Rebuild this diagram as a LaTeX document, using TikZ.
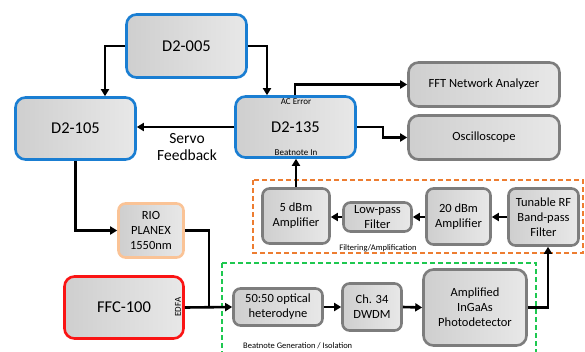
\documentclass[tikz,border=0pt]{standalone}
\usepackage{fontspec}
\setmainfont{Carlito}
\usetikzlibrary{arrows.meta}
\definecolor{bluebd}{RGB}{26,126,210}
\definecolor{graybd}{RGB}{125,125,125}
\definecolor{redbd}{RGB}{250,20,20}
\definecolor{peachbd}{RGB}{250,195,150}
\definecolor{orangedash}{RGB}{237,125,49}
\definecolor{greendash}{RGB}{30,200,80}
\tikzset{
  box/.style={rounded corners=10pt, line width=2.6pt, left color=gray!38, middle color=white, right color=gray!18, align=center, inner sep=0pt, text=black},
  bluebox/.style={box, draw=bluebd, font=\fontsize{16.5}{18}\selectfont},
  graybox/.style={box, draw=graybd, font=\fontsize{12.5}{15}\selectfont},
  smallbox/.style={graybox, rounded corners=7pt},
  arr/.style={line width=2.6pt, -{Triangle[length=7pt,width=8pt]}},
  ln/.style={line width=2.6pt},
  tiny/.style={font=\fontsize{9}{10}\selectfont, inner sep=0pt}
}
\begin{document}
\begin{tikzpicture}[x=1pt,y=-1pt]
\useasboundingbox (0,0) rectangle (585,351);

% group frames
\draw[orangedash, line width=1.2pt, dash pattern=on 5pt off 3pt] (253,180) rectangle (583,253);
\draw[greendash, line width=1.2pt, dash pattern=on 5pt off 3pt] (222,263) -- (536,263) -- (536,360) (222,263) -- (222,360);

% controllers
\node[bluebox, minimum width=120pt, minimum height=63pt] (d005) at (186.5,46) {D2-005};
\node[bluebox, minimum width=120pt, minimum height=62pt] (d105) at (75.5,128.5) {D2-105};
\node[bluebox, minimum width=120pt, minimum height=61pt] (d135) at (295.5,127) {D2-135};
\node[tiny] at (296,102) {AC Error};
\node[tiny] at (296,153) {Beatnote In};

% instruments
\node[graybox, minimum width=151pt, minimum height=44pt] (fft) at (484,84.5) {FFT Network Analyzer};
\node[graybox, minimum width=151pt, minimum height=44pt] (osc) at (484,137.5) {Oscilloscope};

% filtering / amplification chain
\node[smallbox, minimum width=67pt, minimum height=55pt] (amp5) at (296,216) {5 dBm\\Amplifier};
\node[smallbox, minimum width=68pt, minimum height=29pt] (lpf) at (377.5,217) {Low-pass\\Filter};
\node[smallbox, minimum width=64pt, minimum height=56pt] (amp20) at (458.5,216.5) {20 dBm\\Amplifier};
\node[smallbox, minimum width=70pt, minimum height=57pt] (tun) at (543.5,217) {Tunable RF\\Band-pass\\Filter};
\node[tiny, font=\fontsize{8.5}{10}\selectfont] at (378,248) {Filtering/Amplification};

% lasers
\node[smallbox, draw=peachbd, minimum width=65pt, minimum height=54pt] (rio) at (151,230.5) {RIO\\PLANEX\\1550nm};
\node[bluebox, draw=redbd, minimum width=119pt, minimum height=62pt] (ffc) at (124,307.5) {FFC-100};
\node[tiny, rotate=90] at (178,307) {EDFA};

% beatnote generation chain
\node[smallbox, minimum width=89pt, minimum height=37pt] (het) at (278,307) {50:50 optical\\heterodyne};
\node[smallbox, minimum width=59pt, minimum height=47pt] (dwdm) at (372,307) {Ch. 34\\DWDM};
\node[graybox, minimum width=103pt, minimum height=76pt] (pd) at (475,307.5) {Amplified\\InGaAs\\Photodetector};
\node[tiny, font=\fontsize{8.5}{10}\selectfont, anchor=west] at (243,345.5) {Beatnote Generation / Isolation};

% connectors
\draw[arr] (d005.west) -| ([xshift=29.5pt]d105.north);
\draw[arr] (d005.east) -| ([xshift=-28.5pt]d135.north);
\draw[arr] (d135.west) -- (d135.west -| d105.east);
\node[font=\fontsize{15.5}{17.5}\selectfont, align=center] at (187,147) {Servo\\Feedback};
\draw[arr] ([xshift=-0.5pt]d135.north) |- (fft.west);
\draw[arr] (d135.east) -- ++(26,0) |- (osc.west);
\draw[arr] (amp5.north) -- (amp5.north |- d135.south);
\draw[arr] (lpf.west) -- (lpf.west -| amp5.east);
\draw[arr] (amp20.west |- lpf.west) -- (lpf.east);
\draw[arr] (tun.west |- lpf.west) -- (amp20.east |- lpf.west);
\draw[arr] (pd.east) -| ([xshift=4.5pt]tun.south);
\draw[arr] (d105.south) |- (rio.west);
\coordinate (join) at (209,307);
\draw[ln] (rio.east) -| (join);
\draw[arr] (ffc.east) -- (het.west);
\draw[arr] (het.east) -- (dwdm.west);
\draw[arr] (dwdm.east) -- (pd.west);
\end{tikzpicture}
\end{document}
